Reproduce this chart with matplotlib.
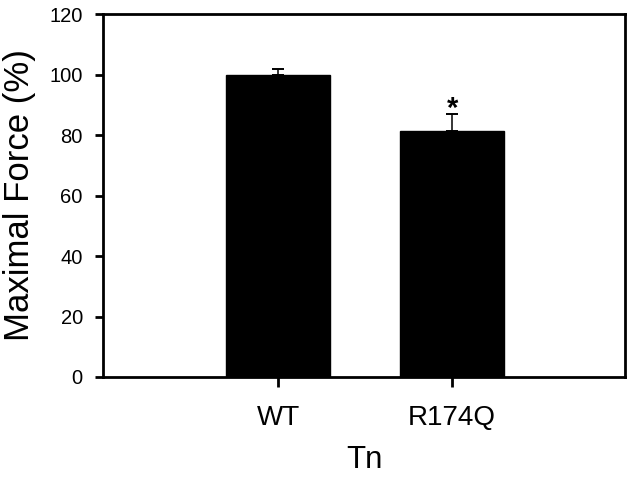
import matplotlib
matplotlib.use('Agg')
from matplotlib import pyplot as plt

plt.rcParams['font.family'] = ['Liberation Sans', 'DejaVu Sans']

groups = ['WT', 'R174Q']
force = [100, 81.5]
err = [1.7, 5.4]
sig = ['', '*']

fig = plt.figure(figsize=(6.3, 4.8), dpi=100)
ax = fig.add_axes([0.1635, 0.2146, 0.8286, 0.756])

x = list(range(len(groups)))
ax.bar(x, force, width=0.6, color='black', edgecolor='black', zorder=2)
ax.errorbar(x, force, yerr=[[0] * len(err), err], fmt='none', ecolor='black',
            elinewidth=1.1, capsize=4.2, capthick=1.4, zorder=3)
for xi, f, e, s in zip(x, force, err, sig):
    if s:
        ax.text(xi, f + e - 0.8, s, ha='center', va='baseline', fontsize=21,
                fontweight='bold')

ax.set_xlim(-1.006, 1.994)
ax.set_ylim(0, 120)
ax.set_yticks(range(0, 121, 20))
ax.set_xticks(x)
ax.set_xticklabels(groups)
for sp in ax.spines.values():
    sp.set_linewidth(2)
ax.tick_params(axis='y', direction='out', length=5.5, width=2, labelsize=14.5, pad=9)
ax.tick_params(axis='x', direction='out', length=7, width=2, labelsize=20, pad=13)
ax.set_ylabel('Maximal Force (%)', fontsize=25, labelpad=10)
ax.set_xlabel('Tn', fontsize=22.5, labelpad=10)

fig.savefig('out.png', dpi=100)
